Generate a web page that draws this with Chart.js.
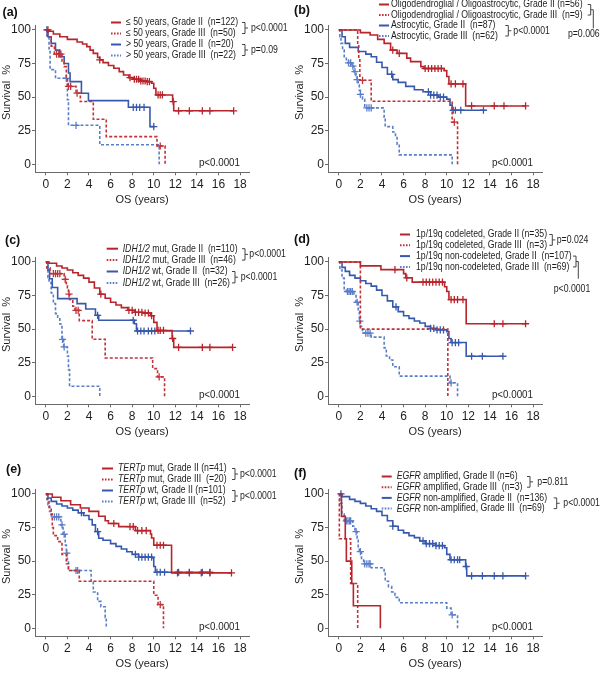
<!DOCTYPE html>
<html>
<head>
<meta charset="utf-8">
<script src="https://cdn.jsdelivr.net/npm/chart.js@4.4.0/dist/chart.umd.min.js"></script>
<style>
html, body { margin: 0; padding: 0; background: #fff; width: 600px; height: 673px; overflow: hidden; position: relative; }
canvas { position: absolute; }
</style>
</head>
<body>
<script>
// Kaplan-Meier panels (a)-(f)

// Axis ticks
const xTicks = [0, 2, 4, 6, 8, 10, 12, 14, 16, 18];
const yTicks = [0, 25, 50, 75, 100];

// Curves are [time, survival %] step points, censor arrays are times
// (a) age
const a1 = [[0,100],[0.3,99],[0.7,97],[1.3,95],[2.0,93],[2.9,91],[3.4,89.5],[3.8,87.6],[4.1,85],[4.4,82.6],[4.8,79.5],[5.0,77.7],[5.3,75.7],[5.8,73.5],[6.3,71.5],[6.8,69],[7.2,66.5],[7.7,64.5],[8.1,63.3],[8.7,62],[9.35,61.5],[9.8,60.3],[10.0,56.6],[10.2,51.6],[11.75,46.6],[11.85,39.8],[17.4,39.8]];
const a1c = [0.2,5.0,7.8,8.2,8.4,8.6,8.8,9.0,9.2,9.4,9.6,10.4,10.6,10.8,11.8,12.3,13.3,14.5,15.2,17.4];
const a2 = [[0,100],[0.15,95],[0.5,88],[0.8,82],[1.5,76],[1.7,72.7],[1.9,63.5],[2.0,58],[2.8,53],[3.2,46.7],[4.4,33.5],[5.6,20.6],[10.3,13.6],[11.05,0]];
const a2c = [1.0,1.2,1.4,2.1,2.3,2.9,10.6];
const a3 = [[0,100],[0.2,95],[0.5,90],[0.9,85],[1.3,80],[1.7,75],[2.1,68],[2.25,61.5],[3.3,52.9],[3.95,47.4],[7.65,42.4],[9.65,28],[10.1,28]];
const a3c = [0.1,8.1,8.4,8.7,9.1,10.0];
const a4 = [[0,100],[0.1,95.5],[0.3,86],[0.4,70.5],[0.9,64],[2.0,48],[2.1,29],[5.0,14.5],[10.5,0]];
const a4c = [1.9,2.8];

// (b) histology
const b1 = [[0,100],[1.85,100],[2.0,98],[2.9,96.3],[3.6,93],[4.2,90],[4.8,85],[5.4,82.6],[6.3,79],[6.65,76.4],[7.6,72.7],[7.9,71.3],[9.75,69.7],[10.0,65.3],[10.2,59.8],[11.75,43.4],[17.3,43.4]];
const b1c = [5.0,5.6,8.0,8.3,8.6,8.9,9.2,9.5,10.4,10.8,11.5,12.3,14.4,15.3,17.3];
const b2 = [[0,100],[1.75,88.9],[1.85,77.8],[1.95,62.5],[3.0,46.9],[10.5,31.3],[11.0,0]];
const b2c = [2.2,10.7];
const b3 = [[0,100],[0.3,95],[0.6,90],[1.0,87],[1.8,84],[2.5,82],[3.0,80],[3.5,76],[4.0,72],[4.5,67],[5.0,63],[5.5,61],[6.2,58],[7.0,55.5],[7.8,54],[8.5,51.5],[9.2,50],[10.0,48.5],[10.3,44],[10.5,40.2],[13.5,40.2]];
const b3c = [4.9,8.3,8.5,8.8,9.1,9.4,9.7,10.6,10.8,11.3,13.4];
const b4 = [[0,100],[0.1,95],[0.2,90],[0.35,85],[0.5,80],[0.7,77],[0.9,75.5],[1.2,73],[1.4,69],[1.6,66],[1.7,63],[1.8,59],[1.9,55],[2.0,52],[2.2,48.5],[2.4,42],[4.2,35],[4.3,28],[5.0,24],[5.25,20.6],[5.4,15],[5.6,7],[10.5,0]];
const b4c = [0.9,1.1,1.3,1.5,1.7,2.0,2.6,2.8,3.0];

// (c) IDH1/2
const c1 = [[0,100],[0.3,99],[1.0,97],[1.5,95.5],[2.0,94],[2.5,92],[3.0,90],[3.5,88],[4.0,85],[4.5,80.6],[5.0,76],[5.5,73],[6.0,70],[6.5,68],[7.0,66],[7.6,64],[8.2,62.5],[9.0,62],[9.7,60],[10.0,55],[10.3,49],[11.7,43],[11.85,36.4],[17.3,36.4]];
const c1c = [5.1,7.7,8.0,8.3,8.6,8.9,9.2,9.5,9.8,10.4,10.6,10.9,11.75,12.3,14.5,15.2,17.3];
const c2 = [[0,100],[0.1,95.6],[0.4,91.3],[1.7,87],[1.9,82],[2.0,80],[2.1,76],[2.2,72],[2.5,67],[2.7,64],[3.1,56.3],[4.3,42.4],[5.5,28.5],[9.9,20.6],[10.35,14.4],[11.0,0]];
const c2c = [0.7,0.9,1.1,1.3,1.8,2.15,2.8,3.0,10.5];
const c3 = [[0,100],[0.2,93.8],[0.35,87.5],[0.6,81],[1.1,72.7],[2.9,69],[3.7,65],[4.6,60.3],[4.9,56.6],[8.2,54],[8.4,48.6],[13.4,48.6]];
const c3c = [4.8,8.1,8.5,8.8,9.1,9.5,9.8,10.1,13.4];
const c4 = [[0,100],[0.1,96],[0.2,88.5],[0.3,84.6],[0.5,76.9],[0.7,69],[0.9,61.5],[1.1,57.7],[1.3,53.8],[1.5,42.4],[1.65,36.7],[2.0,30],[2.1,19.8],[2.2,7.4],[5.0,0]];
const c4c = [1.55,1.7];

// (d) 1p/19q
const d1 = [[0,100],[2.0,97.1],[3.9,94.3],[6.0,91.3],[6.2,88.2],[6.8,85],[9.8,81.5],[10.0,78],[10.2,72],[11.8,54],[17.3,54]];
const d1c = [5.2,6.3,7.8,8.1,8.4,8.7,9.0,9.3,9.6,10.4,10.7,11.0,11.5,14.4,15.2,17.3];
const d2 = [[0,100],[2.0,50],[10.1,0]];
const d2c = [];
const d3 = [[0,100],[0.3,96],[0.6,93],[1.0,90],[1.5,88],[2.0,86],[2.5,84],[3.0,82],[3.5,79],[4.0,75],[4.5,71],[5.0,66.5],[5.5,63],[6.0,60],[6.5,58],[7.0,56],[7.5,54.5],[8.0,52],[8.5,50.5],[9.0,49.5],[10.0,48],[10.2,43],[10.4,40],[11.8,29.8],[15.2,29.8]];
const d3c = [5.3,8.5,8.8,9.1,9.4,9.7,10.5,10.8,11.1,12.3,13.3,15.2];
const d4 = [[0,100],[0.1,94],[0.3,88],[0.5,80],[0.7,78],[1.4,75],[1.6,70],[1.8,63],[1.9,56],[2.0,52],[2.2,47],[3.0,44],[4.2,36],[4.4,30],[4.7,27],[5.0,22],[5.6,15],[10.3,10],[11.0,0]];
const d4c = [0.8,0.95,1.1,1.25,1.7,1.95,2.5,2.7,2.9,10.4];

// (e) TERTp
const e1 = [[0,100],[0.6,97.6],[1.4,95],[2.3,92],[3.2,89.6],[4.0,87],[4.9,83.4],[5.5,80],[5.8,78],[6.75,75.7],[8.3,72.7],[9.7,70.2],[9.8,67.2],[10.0,61.8],[11.65,41.2],[17.2,41.2]];
const e1c = [6.3,7.8,8.1,8.5,8.9,9.3,10.3,10.6,10.9,12.2,13.3,14.4,15.2,17.2];
const e2 = [[0,100],[0.15,95],[0.3,90],[0.5,85],[0.6,75],[0.7,69],[1.1,64.5],[1.5,55],[1.9,48],[2.1,43],[3.1,35],[10.0,24.6],[10.4,17.6],[10.9,0]];
const e2c = [10.6];
const e3 = [[0,100],[0.2,97],[0.5,94.5],[1.0,92.5],[1.5,91],[2.0,89.5],[2.5,88],[3.0,86],[3.5,84],[4.0,81],[4.3,77],[4.6,72],[4.9,67],[5.3,65.5],[6.0,63],[6.5,61],[7.0,59],[7.5,57],[8.0,55],[8.6,53],[9.9,52.4],[10.0,46],[10.15,41.7],[15.2,41.7]];
const e3c = [3.3,4.8,8.3,8.6,8.9,9.2,9.5,9.8,10.3,10.6,11.0,12.3,13.3,14.5,15.2];
const e4 = [[0,100],[0.1,96],[0.2,92],[0.35,87],[0.5,83],[1.4,77],[1.6,70],[1.8,62],[1.9,56],[2.0,50],[2.1,44],[2.2,43],[4.2,35],[4.4,27],[4.8,20],[5.1,16],[5.5,8],[5.6,0]];
const e4c = [0.8,1.0,1.2,1.5,1.7,1.95,2.8,2.95];

// (f) EGFR
const f1 = [[0,100],[0.25,83.3],[0.6,66.7],[0.7,50],[1.2,33.3],[1.35,16.7],[3.85,0]];
const f1c = [];
const f2 = [[0,100],[0.05,66.7],[1.1,33.3],[1.75,0]];
const f2c = [];
const f3 = [[0,100],[0.3,98],[1.0,96],[1.5,94.5],[2.0,93],[2.5,91],[3.0,89],[3.5,87],[4.0,84],[4.5,80],[5.0,76],[5.5,73],[6.0,71],[6.5,69],[7.0,67.5],[7.5,65],[8.0,63],[9.0,61.5],[9.8,60],[10.0,55],[10.3,51],[11.75,46],[11.85,39],[17.3,39]];
const f3c = [0.2,5.0,7.8,8.1,8.4,8.7,9.0,9.3,9.6,10.4,10.7,11.0,11.2,11.8,12.3,13.3,14.4,15.2,17.3];
const f4 = [[0,100],[0.1,93],[0.3,85],[0.5,80],[1.3,76],[1.5,72],[1.7,67],[1.8,60],[1.9,57],[2.1,52],[2.3,48],[3.0,45],[4.2,41],[4.3,35],[4.6,31],[4.9,27],[5.2,23],[5.6,19],[10.0,15],[10.4,10],[11.0,0]];
const f4c = [0.7,0.85,1.0,1.1,1.6,2.0,2.4,2.6,2.8,2.9,10.5];

// Legend labels (*...* = italic)
const labelsA = ['≤ 50 years, Grade II  (n=122)', '≤ 50 years, Grade III  (n=50)', '> 50 years, Grade II  (n=20)', '> 50 years, Grade III  (n=22)'];
const labelsB = ['Oligodendroglial / Oligoastrocytic, Grade II (n=56)', 'Oligodendroglial / Oligoastrocytic, Grade III  (n=9)', 'Astrocytic, Grade II  (n=87)', 'Astrocytic, Grade III  (n=62)'];
const labelsC = ['*IDH1/2* mut, Grade II  (n=110)', '*IDH1/2* mut, Grade III  (n=46)', '*IDH1/2* wt, Grade II  (n=32)', '*IDH1/2* wt, Grade III  (n=26)'];
const labelsD = ['1p/19q codeleted, Grade II (n=35)', '1p/19q codeleted, Grade III  (n=3)', '1p/19q non-codeleted, Grade II  (n=107)', '1p/19q non-codeleted, Grade III  (n=69)'];
const labelsE = ['*TERTp* mut, Grade II (n=41)', '*TERTp* mut, Grade III  (=20)', '*TERTp* wt, Grade II (n=101)', '*TERTp* wt, Grade III  (n=52)'];
const labelsF = ['*EGFR* amplified, Grade II (n=6)', '*EGFR* amplified, Grade III  (n=3)', '*EGFR* non-amplified, Grade II  (n=136)', '*EGFR* non-amplified, Grade III  (n=69)'];

// p-values: pair brackets and overall log-rank
const pA = ['p<0.0001', 'p=0.09'];
const pB = ['p=0.006', 'p<0.0001'];
const pC = ['p<0.0001', 'p<0.0001'];
const pD = ['p=0.024', 'p<0.0001'];
const pE = ['p<0.0001', 'p<0.0001'];
const pF = ['p=0.811', 'p<0.0001'];
const pOverall = 'p<0.0001';

// Styling
const RED = '#b8242b';
const RED_D = '#c23238';
const BLUE = '#3759ad';
const BLUE_D = '#5b7ec8';
const AXIS = '#6a6a6a';
const INK = '#1e1e1e';
const FONT = '"Liberation Sans", Arial, Helvetica, sans-serif';
const OFF = 12;        // canvas starts this far above its panel
const SQUEEZE = 0.83;  // narrow look of the legend text

// Panel layout (panel coordinates)
const panels = [
    { col: 0, row: 0, letter: '(a)', lp: [2.5, 12.5], curves: [a1, a2, a3, a4], cens: [a1c, a2c, a3c, a4c], labels: labelsA,
      leg: { sx0: 111, sx1: 121, tx: 126, y0: 22.5, dy: 11 },
      br: [{ x: 245, tx: 251, t: pA[0] }, { x: 245, tx: 251, t: pA[1] }] },
    { col: 1, row: 0, letter: '(b)', lp: [1, 10.5], curves: [b1, b2, b3, b4], cens: [b1c, b2c, b3c, b4c], labels: labelsB,
      leg: { sx0: 86, sx1: 96, tx: 98, y0: 4.5, dy: 10.5 },
      br: [{ x: 297.7, lx: 300.3, ly: 28.3, tcx: 290.8, ty: 34.3, t: pB[0] }, { x: 215.3, tx: 220.3, t: pB[1] }] },
    { col: 0, row: 1, letter: '(c)', lp: [5, 8.5], curves: [c1, c2, c3, c4], cens: [c1c, c2c, c3c, c4c], labels: labelsC,
      leg: { sx0: 106.7, sx1: 118, tx: 122.7, y0: 16.7, dy: 11.4 },
      br: [{ x: 245, tx: 249.3, t: pC[0] }, { x: 235, tx: 240.7, t: pC[1] }] },
    { col: 1, row: 1, letter: '(d)', lp: [1, 7.5], curves: [d1, d2, d3, d4], cens: [d1c, d2c, d3c, d4c], labels: labelsD,
      leg: { sx0: 107, sx1: 117, tx: 123, y0: 2.5, dy: 10.8 },
      br: [{ x: 259.3, tx: 263.7, t: pD[0] }, { x: 283, lx: 285.3, ly: 46.7, tcx: 279, ty: 56.7, t: pD[1] }] },
    { col: 0, row: 2, letter: '(e)', lp: [6, 5.5], curves: [e1, e2, e3, e4], cens: [e1c, e2c, e3c, e4c], labels: labelsE,
      leg: { sx0: 102, sx1: 113, tx: 118, y0: 4.5, dy: 11 },
      br: [{ x: 235, tx: 240, t: pE[0] }, { x: 235, tx: 240, t: pE[1] }] },
    { col: 1, row: 2, letter: '(f)', lp: [1, 9.5], curves: [f1, f2, f3, f4], cens: [f1c, f2c, f3c, f4c], labels: labelsF,
      leg: { sx0: 88.7, sx1: 98.7, tx: 103.7, y0: 12.5, dy: 10.7 },
      br: [{ x: 237, tx: 244.3, t: pF[0] }, { x: 263.7, tx: 270.3, t: pF[1] }] }
];

// Series order inside each panel: Grade II / Grade III of first group, then second group
const seriesColors = [RED, RED_D, BLUE, BLUE_D];
const seriesDashed = [false, true, false, true];

// Survival at time t from a step curve
function survAt(curve, t) {
    let s = curve[0][1];
    curve.forEach(([x, y]) => { if (x <= t) s = y; });
    return s;
}

// Text with *italic* parts, horizontally narrowed
function drawRich(ctx, str, x, y, size, align) {
    const parts = str.split('*');
    ctx.save();
    let w = 0;
    parts.forEach((txt, i) => {
        ctx.font = (i % 2 ? 'italic ' : '') + size + 'px ' + FONT;
        w += ctx.measureText(txt).width;
    });
    ctx.translate(x, y);
    ctx.scale(SQUEEZE, 1);
    let cx = align === 'right' ? -w : align === 'center' ? -w / 2 : 0;
    ctx.textBaseline = 'middle';
    ctx.textAlign = 'left';
    ctx.fillStyle = INK;
    parts.forEach((txt, i) => {
        ctx.font = (i % 2 ? 'italic ' : '') + size + 'px ' + FONT;
        ctx.fillText(txt, cx, 0);
        cx += ctx.measureText(txt).width;
    });
    ctx.restore();
}

// Letter, legend, brackets and overall p-value
function makeNotes(p) {
    return {
        id: 'kmNotes',
        afterDraw(chart) {
            const ctx = chart.ctx;
            ctx.save();
            ctx.translate(0, OFF);

            ctx.font = 'bold 12.5px ' + FONT;
            ctx.fillStyle = '#111';
            ctx.textBaseline = 'middle';
            ctx.fillText(p.letter, p.lp[0], p.lp[1]);

            const L = p.leg;
            const rowY = i => L.y0 + i * L.dy;
            p.labels.forEach((lab, i) => {
                ctx.save();
                ctx.strokeStyle = seriesColors[i];
                ctx.lineWidth = 2;
                ctx.setLineDash(seriesDashed[i] ? [1.6, 1.4] : []);
                ctx.beginPath();
                ctx.moveTo(L.sx0, rowY(i));
                ctx.lineTo(L.sx1, rowY(i));
                ctx.stroke();
                ctx.restore();
                drawRich(ctx, lab, L.tx, rowY(i), 10.5, 'left');
            });

            ctx.strokeStyle = '#444';
            ctx.lineWidth = 1;
            p.br.forEach((b, k) => {
                const y1 = rowY(2 * k), y2 = rowY(2 * k + 1), ym = (y1 + y2) / 2;
                ctx.beginPath();
                ctx.moveTo(b.x - 3, y1); ctx.lineTo(b.x, y1); ctx.lineTo(b.x, y2); ctx.lineTo(b.x - 3, y2);
                if (b.lx) {
                    ctx.moveTo(b.x, ym); ctx.lineTo(b.lx, ym); ctx.lineTo(b.lx, b.ly);
                } else {
                    ctx.moveTo(b.x, ym); ctx.lineTo(b.x + 3, ym);
                }
                ctx.stroke();
                if (b.lx) drawRich(ctx, b.t, b.tcx, b.ty, 10.5, 'center');
                else drawRich(ctx, b.t, b.tx, ym, 10.5, 'left');
            });

            drawRich(ctx, pOverall, 240, 162.5, 11.8, 'right');
            ctx.restore();
        }
    };
}

function buildDatasets(p) {
    const ds = [];
    p.curves.forEach((curve, i) => {
        ds.push({
            data: curve.map(([x, y]) => ({ x, y })),
            stepped: 'before',
            borderColor: seriesColors[i],
            borderWidth: 1.6,
            borderDash: seriesDashed[i] ? [3, 2] : [],
            pointRadius: 0,
            fill: false
        });
        ds.push({
            data: p.cens[i].map(t => ({ x: t, y: survAt(curve, t) })),
            showLine: false,
            pointStyle: 'cross',
            pointRadius: 3.6,
            pointBorderWidth: 1.3,
            borderColor: seriesColors[i],
            backgroundColor: seriesColors[i]
        });
    });
    return ds;
}

function createPanel(p) {
    const W = p.col ? 307 : 300;
    const H = 232 + OFF;
    const canvas = document.createElement('canvas');
    canvas.width = W;
    canvas.height = H;
    canvas.style.width = W + 'px';
    canvas.style.height = H + 'px';
    canvas.style.left = (p.col * 293) + 'px';
    canvas.style.top = (p.row * 232 - OFF) + 'px';
    document.body.appendChild(canvas);

    const axisGrid = { drawOnChartArea: false, drawTicks: true, tickLength: 3, color: AXIS, lineWidth: 1 };
    const axisBorder = { display: true, color: AXIS, width: 1 };

    new Chart(canvas, {
        type: 'line',
        data: { datasets: buildDatasets(p) },
        options: {
            responsive: false,
            animation: false,
            devicePixelRatio: 1,
            events: [],
            layout: { padding: { left: 0, top: OFF + 25, right: W - 249.3, bottom: 0 } },
            plugins: { legend: { display: false }, tooltip: { enabled: false } },
            scales: {
                x: {
                    type: 'linear', min: -1, max: 18.85,
                    afterBuildTicks: s => { s.ticks = xTicks.map(v => ({ value: v })); },
                    afterFit: s => { s.height = 59.7; },
                    grid: axisGrid, border: axisBorder,
                    ticks: { autoSkip: false, maxRotation: 0, padding: 2, color: INK, font: { size: 12, family: FONT } },
                    title: { display: true, text: 'OS (years)', color: INK, font: { size: 11, family: FONT }, padding: { top: 0, bottom: 25.4 } }
                },
                y: {
                    type: 'linear', min: -6, max: 103.7,
                    afterBuildTicks: s => { s.ticks = yTicks.map(v => ({ value: v })); },
                    afterFit: s => { s.width = 35; },
                    grid: axisGrid, border: axisBorder,
                    ticks: { padding: 1, color: INK, font: { size: 12, family: FONT } },
                    // leading spaces lift the title a little above the axis centre
                    title: { display: true, text: '    Survival  %', color: INK, font: { size: 11, family: FONT }, padding: { top: 0, bottom: 0 } }
                }
            }
        },
        plugins: [makeNotes(p)]
    });
}

panels.forEach(createPanel);
</script>
</body>
</html>
